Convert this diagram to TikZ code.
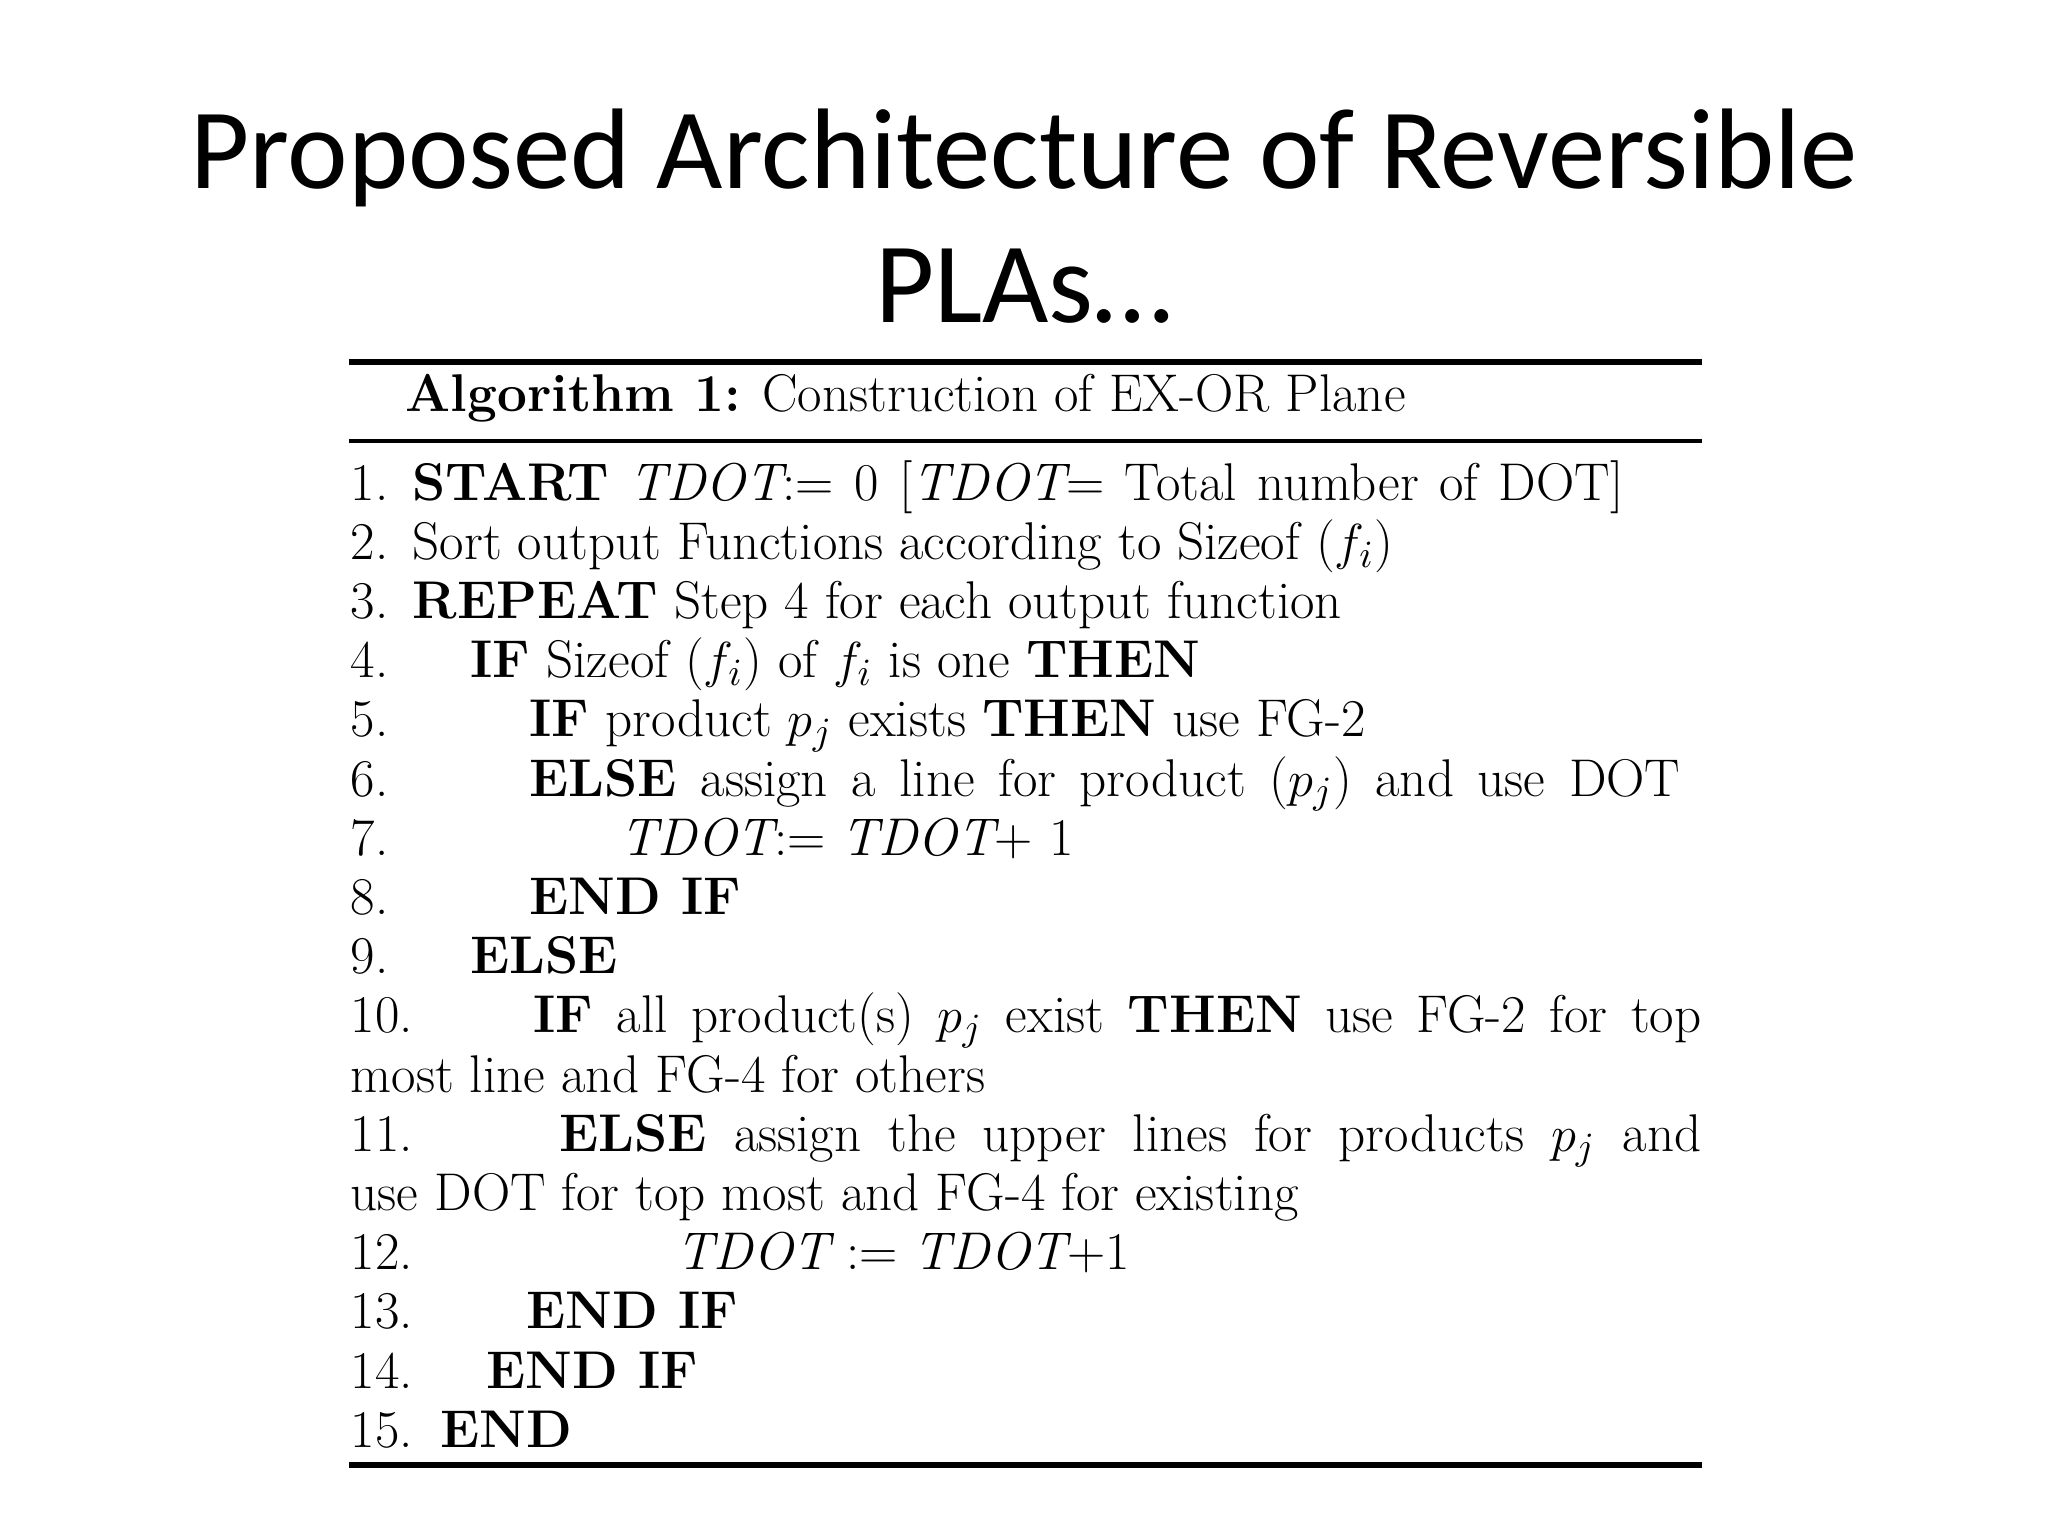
\documentclass[tikz,border=0pt]{standalone}
\usepackage{fontspec}
\newfontfamily\titlefont{Carlito}
\begin{document}
\begin{tikzpicture}[x=0.01cm,y=-0.01cm,
  ln/.style={anchor=base west,inner sep=0pt,font=\fontsize{15.1}{17}\selectfont},
  ttl/.style={anchor=base,inner sep=0pt,font=\titlefont\fontsize{32.6}{40}\selectfont}]
\useasboundingbox[fill=white] (0,0) rectangle (2048,1536);
\node[ttl] (t1) at (1024,188) {Proposed Architecture of Reversible};
\node[ttl] (t2) at (1024,322) {PLAs…};
\draw[line width=1.6pt] (349,362) -- (1702,362);
\draw[line width=1.2pt] (349,441) -- (1702,441);
\draw[line width=1.6pt] (349,1465) -- (1702,1465);
\node[ln] (h) at (405,411) {\textbf{Algorithm 1:} Construction of EX-OR Plane};
\foreach \n/\i in {1/0,2/1,3/2,4/3,5/4,6/5,7/6,8/7,9/8,10/9,11/11,12/13,13/14,14/15,15/16}
  \node[ln] (n\n) at (350,{500+59.2*\i}) {\n.};
\node[ln] (l1) at (412,500) {\makebox[12.1cm][s]{\textbf{START} $\mathit{TDOT}$:= 0 [$\mathit{TDOT}$= Total number of DOT]}};
\node[ln] (l2) at (412,559.2) {Sort output Functions according to Sizeof ($f_i$)};
\node[ln] (l3) at (412,618.4) {\textbf{REPEAT} Step 4 for each output function};
\node[ln] (l4) at (470,677.6) {\textbf{IF} Sizeof ($f_i$) of $f_i$ is one \textbf{THEN}};
\node[ln] (l5) at (529,736.8) {\textbf{IF} product $p_j$ exists \textbf{THEN} use FG-2};
\node[ln] (l6) at (529,796) {\makebox[11.5cm][s]{\textbf{ELSE} assign a line for product ($p_j$) and use DOT}};
\node[ln] (l7) at (620,855.2) {$\mathit{TDOT}$:= $\mathit{TDOT}$+ 1};
\node[ln] (l8) at (529,914.4) {\textbf{END IF}};
\node[ln] (l9) at (470,973.6) {\textbf{ELSE}};
\node[ln] (l10) at (533,1032.8) {\makebox[11.67cm][s]{\textbf{IF} all product(s) $p_j$ exist \textbf{THEN} use FG-2 for top}};
\node[ln] (l10b) at (350,1092) {most line and FG-4 for others};
\node[ln] (l11) at (559,1151.2) {\makebox[11.41cm][s]{\textbf{ELSE} assign the upper lines for products $p_j$ and}};
\node[ln] (l11b) at (350,1210.4) {use DOT for top most and FG-4 for existing};
\node[ln] (l12) at (676,1269.6) {$\mathit{TDOT}$ := $\mathit{TDOT}$+1};
\node[ln] (l13) at (526,1328.8) {\textbf{END IF}};
\node[ln] (l14) at (486,1388) {\textbf{END IF}};
\node[ln] (l15) at (440,1447.2) {\textbf{END}};
\end{tikzpicture}
\end{document}
